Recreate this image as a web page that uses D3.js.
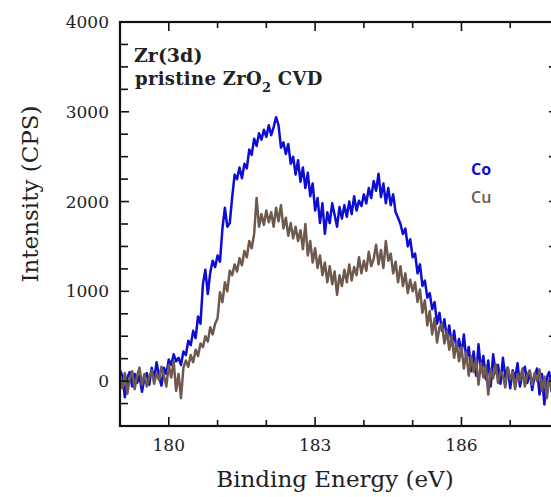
<!DOCTYPE html>
<html>
<head>
<meta charset="utf-8">
<script src="https://cdn.jsdelivr.net/npm/d3@7"></script>
<style>
  html, body { margin: 0; padding: 0; background: #fff; overflow: hidden; }
  .tick-label { font-family: "DejaVu Serif", serif; font-size: 17px; fill: #222; }
  .axis-title { font-family: "DejaVu Serif", serif; font-size: 23px; fill: #222; }
</style>
</head>
<body>
<div id="chart"></div>
<script>
// binding energy grid (eV)
const energy = [
  179.00, 179.05, 179.10, 179.15, 179.20, 179.25, 179.30, 179.35, 179.40, 179.45,
  179.50, 179.55, 179.60, 179.65, 179.70, 179.75, 179.80, 179.85, 179.90, 179.95,
  180.00, 180.05, 180.10, 180.15, 180.20, 180.25, 180.30, 180.35, 180.40, 180.45,
  180.50, 180.55, 180.60, 180.65, 180.70, 180.75, 180.80, 180.85, 180.90, 180.95,
  181.00, 181.05, 181.10, 181.15, 181.20, 181.25, 181.30, 181.35, 181.40, 181.45,
  181.50, 181.55, 181.60, 181.65, 181.70, 181.75, 181.80, 181.85, 181.90, 181.95,
  182.00, 182.05, 182.10, 182.15, 182.20, 182.25, 182.30, 182.35, 182.40, 182.45,
  182.50, 182.55, 182.60, 182.65, 182.70, 182.75, 182.80, 182.85, 182.90, 182.95,
  183.00, 183.05, 183.10, 183.15, 183.20, 183.25, 183.30, 183.35, 183.40, 183.45,
  183.50, 183.55, 183.60, 183.65, 183.70, 183.75, 183.80, 183.85, 183.90, 183.95,
  184.00, 184.05, 184.10, 184.15, 184.20, 184.25, 184.30, 184.35, 184.40, 184.45,
  184.50, 184.55, 184.60, 184.65, 184.70, 184.75, 184.80, 184.85, 184.90, 184.95,
  185.00, 185.05, 185.10, 185.15, 185.20, 185.25, 185.30, 185.35, 185.40, 185.45,
  185.50, 185.55, 185.60, 185.65, 185.70, 185.75, 185.80, 185.85, 185.90, 185.95,
  186.00, 186.05, 186.10, 186.15, 186.20, 186.25, 186.30, 186.35, 186.40, 186.45,
  186.50, 186.55, 186.60, 186.65, 186.70, 186.75, 186.80, 186.85, 186.90, 186.95,
  187.00, 187.05, 187.10, 187.15, 187.20, 187.25, 187.30, 187.35, 187.40, 187.45,
  187.50, 187.55, 187.60, 187.65, 187.70, 187.75, 187.80, 187.85, 187.90
];

// Co sample intensity (CPS)
const coCounts = [
  120, 60, -180, 40, 100, -60, 80, -20, 60, -120,
  30, 90, -40, 150, 20, 210, 60, -50, 150, 80,
  240, 180, 300, 220, 260, 180, 330, 290, 450, 400,
  560, 480, 720, 640, 1080, 1240, 970, 1210, 1340, 1270,
  1400, 1330, 1700, 1930, 1720, 1760, 2050, 2300, 2250, 2380,
  2260, 2420, 2370, 2580, 2520, 2700, 2620, 2760, 2690, 2800,
  2720, 2850, 2740, 2830, 2940, 2850, 2600, 2660, 2530, 2640,
  2420, 2500, 2300, 2460, 2220, 2380, 2150, 2320, 2060, 2200,
  1900, 2040, 1760, 1980, 1640, 1880, 1760, 1980, 1850, 1720,
  1940, 1810, 1960, 1830, 2000, 1860, 2060, 1900, 2010, 1950,
  2080, 1980, 2150, 2040, 2230, 2120, 2310, 2050, 2200, 1980,
  2150, 1960, 2080, 1880, 1820, 1750, 1640, 1700, 1500, 1580,
  1380, 1420, 1200, 1300, 1060, 1120, 930, 980, 800, 880,
  640, 760, 560, 690, 480, 620, 400, 560, 340, 470,
  300, 520, 240, 380, 110, 330, 60, 410, 120, 280,
  20, 230, -60, 300, 90, 180, -30, 260, 40, 150,
  -80, 120, 30, 200, -60, 90, 160, -20, 110, -100,
  60, 140, -150, 80, -260, 40, 100, -120, 60
];

// Cu sample intensity (CPS)
const cuCounts = [
  40, -80, 90, -140, 30, 110, -90, 60, 150, -40,
  80, -60, 40, 120, -30, 90, 10, 160, 60, -60,
  180, 40, 220, -110, 80, -190, 150, 230, 160, 290,
  210, 350, 280, 420, 380, 500, 440, 600, 520, 640,
  700, 990, 880, 1100, 1000, 1230, 1180, 1300, 1220, 1370,
  1290, 1450, 1380, 1560, 1480, 1640, 2040, 1720, 1860, 1740,
  1900, 1770, 1880, 1720, 1930, 1780, 1960, 1700, 1820, 1620,
  1760, 1590, 1720, 1560, 1680, 1470, 1750, 1400, 1560, 1320,
  1480, 1260, 1400, 1180, 1320, 1100, 1280, 1080, 1220, 960,
  1180, 1060, 1240, 1100, 1300, 1120, 1270, 1180, 1380, 1200,
  1340, 1230, 1440, 1280, 1360, 1520, 1300, 1460, 1260, 1560,
  1340, 1420, 1200, 1330, 1100, 1280, 1060, 1200, 980, 1130,
  1000, 1100, 880, 1020, 760, 900, 620, 780, 520, 700,
  430, 600, 640, 420, 560, 350, 500, 260, 430, 220,
  380, 140, 320, 60, 280, 100, 240, -40, 200, 40,
  170, -150, 130, 30, 190, -20, 110, 60, -70, 150,
  20, 100, -90, 80, 10, 140, -60, 70, 120, -40,
  90, 0, 130, -110, 50, -190, 20, -80, 30
];

const xTickValues = [180, 183, 186];
const yTickValues = [0, 1000, 2000, 3000, 4000];
const seriesNames = ["Co", "Cu"];
const seriesColors = ["#0d0dd4", "#6d594d"];

// svg size and plot frame
const width = 551, height = 497;
const plot = { left: 120, right: 559, top: 22, bottom: 426 };

const svg = d3.select("#chart").append("svg")
    .attr("width", width)
    .attr("height", height);

const x = d3.scaleLinear().domain([179, 188]).range([plot.left, plot.right]);
const y = d3.scaleLinear().domain([-500, 4000]).range([plot.bottom, plot.top]);

// series lines (Co underneath, Cu on top)
const line = d3.line()
    .x((d, i) => x(energy[i]))
    .y(d => y(d));

[coCounts, cuCounts].forEach((s, k) => {
    svg.append("path")
        .datum(s)
        .attr("fill", "none")
        .attr("stroke", seriesColors[k])
        .attr("stroke-width", 2.5)
        .attr("stroke-linejoin", "round")
        .attr("d", line);
});

// ticks pointing inside the frame
const xMinor = d3.range(179, 188.5, 1).filter(v => !xTickValues.includes(v));
const yMinor = d3.range(-250, 4000, 250).filter(v => !yTickValues.includes(v));
const tickG = svg.append("g").attr("stroke", "#111").attr("stroke-width", 1.6);

function xTicks(vals, len) {
    vals.forEach(v => {
        tickG.append("line").attr("x1", x(v)).attr("x2", x(v))
            .attr("y1", plot.bottom).attr("y2", plot.bottom - len);
        tickG.append("line").attr("x1", x(v)).attr("x2", x(v))
            .attr("y1", plot.top).attr("y2", plot.top + len);
    });
}
function yTicks(vals, len, rightLen) {
    vals.forEach(v => {
        tickG.append("line").attr("x1", plot.left).attr("x2", plot.left + len)
            .attr("y1", y(v)).attr("y2", y(v));
        tickG.append("line").attr("x1", plot.right).attr("x2", plot.right - rightLen)
            .attr("y1", y(v)).attr("y2", y(v));
    });
}
xTicks(xTickValues, 9);
xTicks(xMinor, 6);
yTicks(yTickValues, 9, 10);
yTicks(yMinor.filter(v => v % 500 === 0), 8, 10);
yTicks(yMinor.filter(v => v % 500 !== 0), 8, 5);

// frame
svg.append("rect")
    .attr("x", plot.left).attr("y", plot.top)
    .attr("width", plot.right - plot.left).attr("height", plot.bottom - plot.top)
    .attr("fill", "none").attr("stroke", "#111").attr("stroke-width", 2.2);

// tick labels
svg.selectAll(".xl").data(xTickValues).join("text")
    .attr("class", "tick-label")
    .attr("x", d => x(d)).attr("y", 451)
    .attr("text-anchor", "middle")
    .text(d => d);

svg.selectAll(".yl").data(yTickValues).join("text")
    .attr("class", "tick-label")
    .attr("x", 109).attr("y", d => y(d) + 6)
    .attr("text-anchor", "end")
    .text(d => d);

// axis titles
svg.append("text").attr("class", "axis-title")
    .attr("x", 335).attr("y", 487)
    .attr("text-anchor", "middle")
    .text("Binding Energy (eV)");

svg.append("text").attr("class", "axis-title")
    .attr("transform", "translate(38,194) rotate(-90)")
    .attr("text-anchor", "middle")
    .text("Intensity (CPS)");

// panel labels
svg.append("text")
    .attr("x", 134).attr("y", 62)
    .style("font-family", "DejaVu Serif, serif")
    .style("font-weight", "bold").style("font-size", "19px").style("fill", "#222")
    .text("Zr(3d)");

const sub = svg.append("text")
    .attr("x", 135).attr("y", 85)
    .style("font-family", "DejaVu Serif, serif")
    .style("font-weight", "bold").style("font-size", "18px").style("fill", "#222")
    .style("letter-spacing", "0.3px");
sub.append("tspan").text("pristine ZrO");
sub.append("tspan").attr("dy", 7).style("font-size", "13px").text("2");
sub.append("tspan").attr("dy", -7).text(" CVD");

// legend
seriesNames.forEach((name, i) => {
    svg.append("text")
        .attr("x", 471).attr("y", 175 + i * 28)
        .style("font-family", "Open Sans, sans-serif")
        .style("font-weight", i === 0 ? "bold" : 600)
        .style("font-size", "16px")
        .style("fill", seriesColors[i])
        .text(name);
});
</script>
</body>
</html>
